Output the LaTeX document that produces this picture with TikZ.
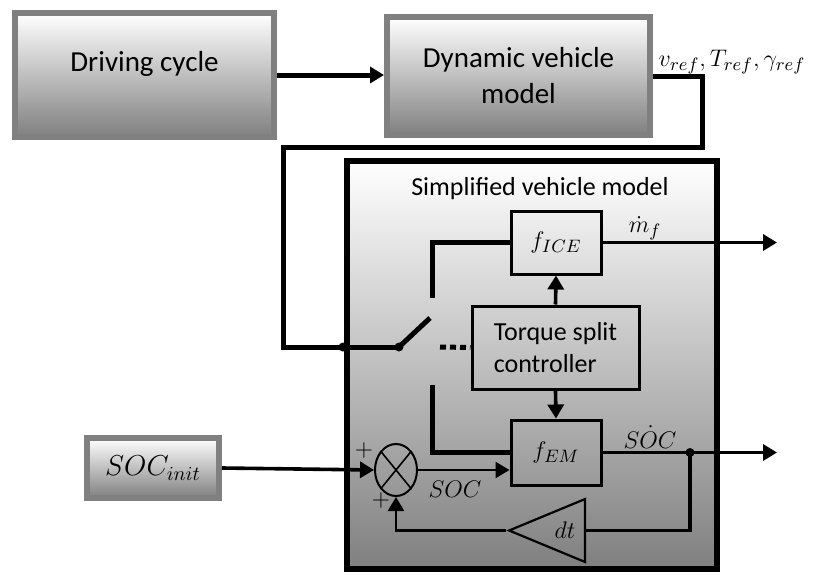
\documentclass[tikz,border=0pt]{standalone}
\usepackage{fontspec}
\setmainfont{Carlito}
\usetikzlibrary{positioning,shapes,arrows.meta}

\begin{document}
\begin{tikzpicture}[x=0.5pt, y=-0.5pt,
    graybox/.style={draw=black!50, line width=3pt, top color=white, bottom color=black!50, font=\fontsize{14.5}{18}\selectfont, align=center},
    simbox/.style={draw=black, line width=3pt, top color=white, middle color=black!13, bottom color=black!50},
    innerbox/.style={draw=black, line width=1.5pt, font=\fontsize{13}{16}\selectfont},
    wire/.style={line width=2.5pt},
    sigwire/.style={line width=1.8pt},
    thinwire/.style={line width=1.1pt},
    tip/.style={-{Triangle[length=7pt,width=8pt]}},
    dot/.style={circle, fill=black, inner sep=0pt, minimum size=4.5pt},
    lbl/.style={font=\fontsize{13}{15}\selectfont, inner sep=0pt}
]
\useasboundingbox (0,0) rectangle (815,574);

    % top row
    \node (dcycle) [graybox, minimum width=129.5pt, minimum height=62pt] at (144.5,75) {Driving cycle\\[-4pt]\mbox{}};
    \node (dynmodel) [graybox, minimum width=131.5pt, minimum height=59pt] at (518.5,76) {Dynamic vehicle\\model};
    \node (socinit) [graybox, minimum width=66pt, minimum height=30pt] at (153,468) {$SOC_{init}$};

    % simplified model
    \node (simmodel) [simbox, minimum width=185pt, minimum height=204pt] at (532,365) {};
    \node (simtitle) [lbl] at (540,189) {Simplified vehicle model};
    \node (fice) [innerbox, minimum width=45pt, minimum height=31.5pt] at (556,242.5) {$f_{ICE}$};
    \node (tsc) [innerbox, minimum width=83.5pt, minimum height=41.5pt, align=left] at (555.5,347.5) {Torque split\\controller};
    \node (fem) [innerbox, minimum width=45pt, minimum height=32.5pt] at (556,452.5) {$f_{EM}$};
    \node (summ) [ellipse, draw, line width=1pt, minimum width=21pt, minimum height=26pt, inner sep=0pt] at (396,470) {};
    \draw[line width=0.8pt] (summ.north west) -- (summ.south east) (summ.north east) -- (summ.south west);
    \node (gain) [isosceles triangle, isosceles triangle stretches, shape border rotate=180, draw, line width=1.1pt, minimum width=31.5pt, minimum height=38pt, inner sep=0pt, font=\fontsize{13}{15}\selectfont] at (565,530.5) {$dt$};

    % switch
    \coordinate (pivot) at (399,347);
    \coordinate (blade) at (430,318);
    \coordinate (swup) at (432,298);
    \coordinate (swdn) at (432,385);
    \coordinate (outf) at (777,242.5);
    \coordinate (outsoc) at (777,452.5);
    \coordinate (split) at (690,452.5);

    \draw[wire, tip] (dcycle.east) -- (dcycle.east -| dynmodel.west);
    \draw[wire] (dynmodel.east) -- (702,76) -- (702,147) -- (283,147) |- (pivot);
    \draw[wire] (pivot) -- (blade);
    \draw[wire] (fice.west) -| (swup);
    \draw[wire] (swdn) |- (fem.west);
    \draw[wire, dash pattern=on 3pt off 2pt] (440,347) -- (tsc.west);
    \node (jn) [dot] at (343,347) {};
    \node (pv) [dot] at (pivot) {};

    \draw[sigwire, tip] (fice.east) -- (outf);
    \draw[sigwire, tip] (fem.east) -- (outsoc);
    \draw[sigwire, tip] (tsc.north) -- (fice.south);
    \draw[sigwire, tip] (tsc.south) -- (fem.north);
    \draw[sigwire, tip] (socinit.east) -- (summ.west);
    \draw[thinwire, tip] (summ.east) -- (summ.east -| fem.west);
    \draw[sigwire] (split) |- (gain.east);
    \draw[thinwire, tip] (gain.apex) -| (summ.south);
    \node (sp) [dot] at (split) {};

    % labels
    \node (vlbl) [lbl] at (732,62) {$v_{ref},T_{ref},\gamma_{ref}$};
    \node (mflbl) [lbl] at (645,228) {$\dot{m}_f$};
    \node (socdlbl) [lbl] at (650,437) {$S\dot{O}C$};
    \node (soclbl) [lbl] at (455,489) {$SOC$};
    \node (plusa) [lbl] at (364,450) {$+$};
    \node (plusb) [lbl] at (381,500) {$+$};
\end{tikzpicture}
\end{document}
